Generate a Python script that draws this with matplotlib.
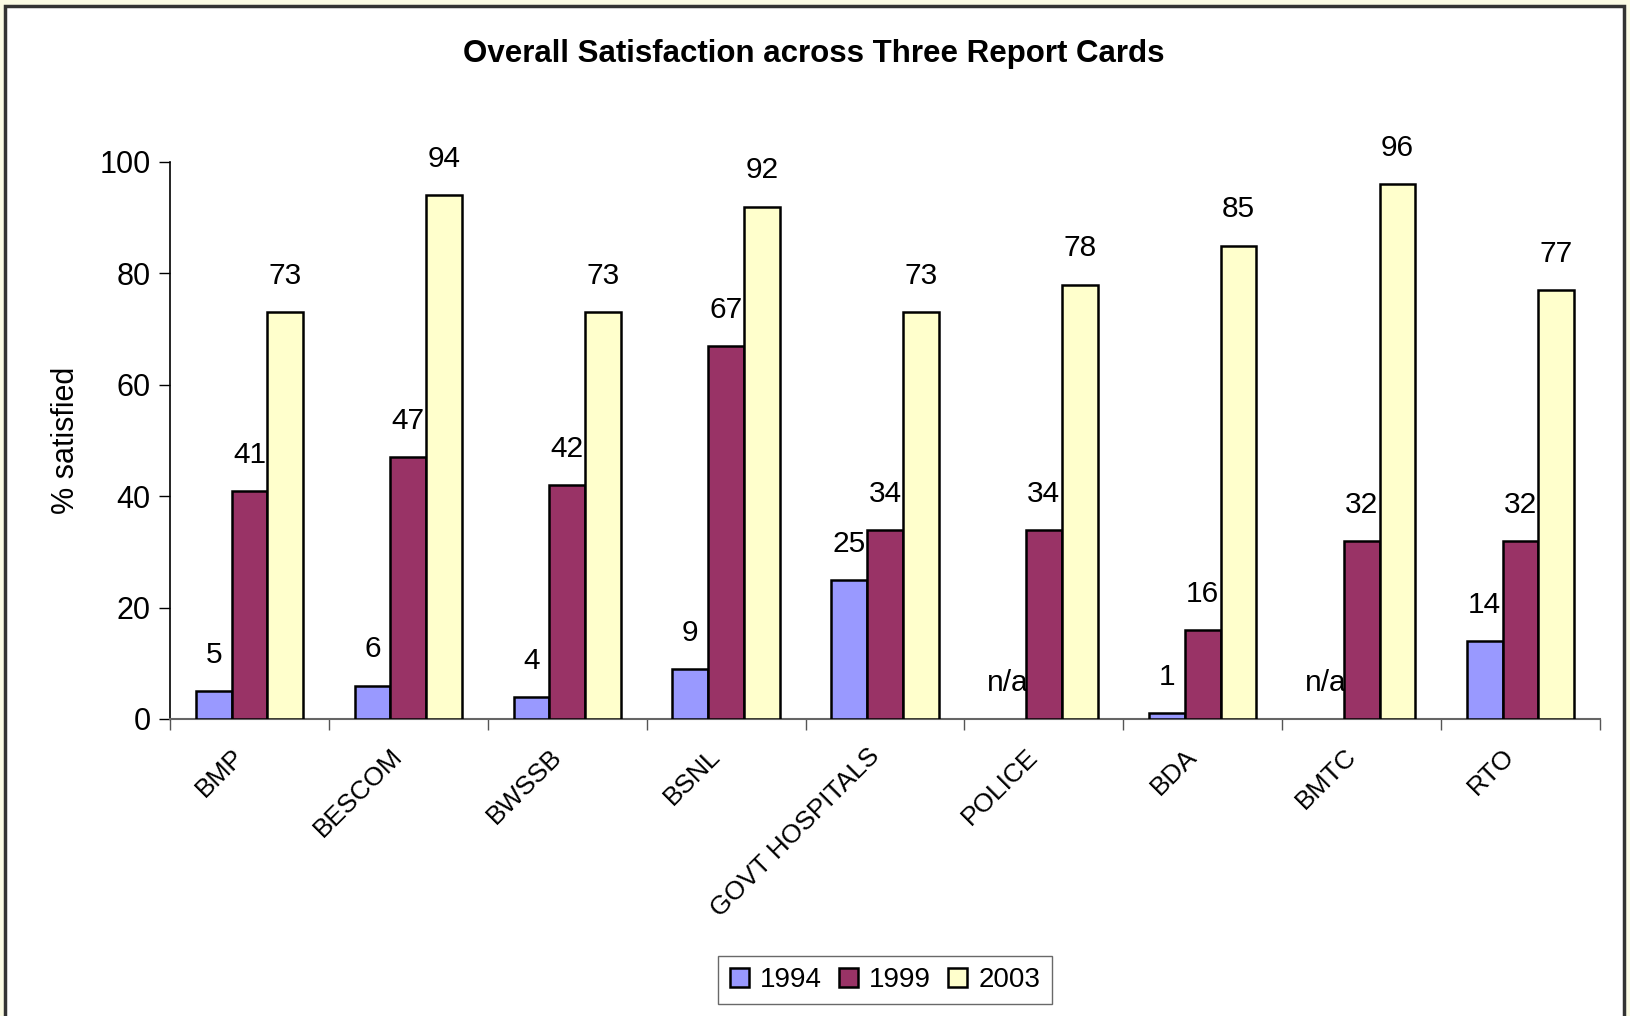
import matplotlib
matplotlib.use("Agg")
import matplotlib.pyplot as plt
from matplotlib.patches import Rectangle
from matplotlib.transforms import ScaledTranslation
import numpy as np

plt.rcParams['font.family'] = ['Liberation Sans', 'DejaVu Sans']

# data
agencies = ["BMP", "BESCOM", "BWSSB", "BSNL", "GOVT HOSPITALS",
            "POLICE", "BDA", "BMTC", "RTO"]
years = ["1994", "1999", "2003"]
sat_1994 = [5, 6, 4, 9, 25, None, 1, None, 14]
sat_1999 = [41, 47, 42, 67, 34, 34, 16, 32, 32]
sat_2003 = [73, 94, 73, 92, 73, 78, 85, 96, 77]
colors = ["#9999FF", "#993366", "#FFFFCC"]

W, H = 1630, 1016
fig = plt.figure(figsize=(W / 100, H / 100), dpi=100, facecolor="#FBFBE4")

# white chart area with dark border
fig.patches.append(Rectangle((5 / W, -0.02), (1624 - 5) / W, 1 - 6 / H + 0.02,
                             transform=fig.transFigure, facecolor="white",
                             edgecolor="#333333", linewidth=2.5, zorder=-10))

ax = fig.add_axes([170 / W, 297 / H, 1430 / W, 557 / H])
ax.set_facecolor("none")
ax.set_zorder(2)

x = np.arange(len(agencies))
bw = 0.225
series = [sat_1994, sat_1999, sat_2003]
for i, (vals, col, yr) in enumerate(zip(series, colors, years)):
    pos = x + (i - 1) * bw
    have = [(p, v) for p, v in zip(pos, vals) if v is not None]
    ax.bar([p for p, v in have], [v for p, v in have], width=bw, color=col,
           edgecolor="black", linewidth=1.8, label=yr, zorder=3)
    for p, v in zip(pos, vals):
        txt = str(v) if v is not None else "n/a"
        ax.annotate(txt, (p, v if v is not None else 0), xytext=(0, 26),
                    textcoords="offset points", ha="center", va="center",
                    fontsize=21.5, zorder=2)

ax.set_xlim(-0.5, len(agencies) - 0.5)
ax.set_ylim(0, 100)
ax.set_yticks(range(0, 101, 20))
ax.tick_params(axis="y", labelsize=22, length=8, width=1, direction="out",
               pad=6)

ax.set_xticks(x)
ax.set_xticklabels(agencies, rotation=45, ha="right", va="top",
                   rotation_mode="anchor", fontsize=19)
ax.tick_params(axis="x", length=0, pad=18)
shift = ScaledTranslation(-0.18, 0, fig.dpi_scale_trans)
for lab in ax.get_xticklabels():
    lab.set_transform(lab.get_transform() + shift)
ax.set_xticks(np.arange(-0.5, len(agencies)), minor=True)
ax.tick_params(axis="x", which="minor", length=8, width=1, color="#555555")

for s in ["top", "right"]:
    ax.spines[s].set_visible(False)
ax.spines["left"].set_linewidth(1.2)
ax.spines["bottom"].set_color("#666666")
ax.spines["bottom"].set_linewidth(1.5)

ax.set_ylabel("% satisfied", fontsize=22)
ax.yaxis.set_label_coords(-0.062, 0.5)

fig.text(814 / W, 1 - 54 / H, "Overall Satisfaction across Three Report Cards",
         ha="center", va="center", fontsize=22.5, fontweight="bold")

leg = fig.legend(loc="center", bbox_to_anchor=(885 / W, 1 - 980 / H), ncol=3,
                 fontsize=20, frameon=True, fancybox=False, handlelength=0.7,
                 handleheight=0.7, handletextpad=0.4, columnspacing=0.6,
                 borderpad=0.4)
leg.get_frame().set_edgecolor("#444444")
leg.get_frame().set_linewidth(1)

fig.savefig("out.png", dpi=100, facecolor=fig.get_facecolor())
